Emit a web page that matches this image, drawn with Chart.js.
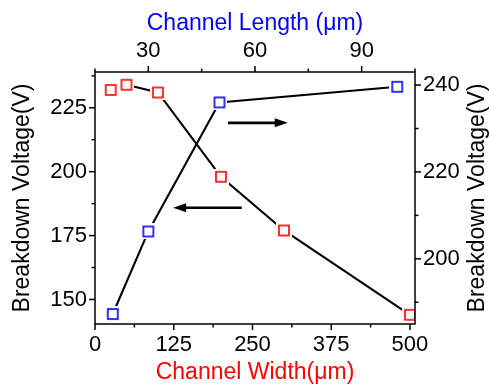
<!DOCTYPE html>
<html>
<head>
<meta charset="utf-8">
<script src="https://cdn.jsdelivr.net/npm/chart.js@4.4.0/dist/chart.umd.min.js"></script>
<style>
    html, body { margin: 0; padding: 0; background: #fff; }
    canvas { display: block; }
</style>
</head>
<body>
<canvas id="breakdownChart" width="489" height="388"></canvas>
<script>
// Channel width series (bottom / left axes)
const channelWidth = [25, 50, 100, 200, 300, 500];
const widthVoltage = [232, 234, 231, 198, 177, 144];

// Channel length series (top / right axes)
const channelLength = [20, 30, 50, 100];
const lengthVoltage = [187.3, 206.3, 236, 239.6];

// tick labels
const widthTicks = [0, 125, 250, 375, 500];
const leftVoltTicks = [150, 175, 200, 225];
const lengthTicks = [30, 60, 90];
const rightVoltTicks = [200, 220, 240];

const minorStep = { x: 62.5, y: 12.5, x2: 15, y2: 10 };

// arrows, in channel width / left voltage units
const arrows = [
    { from: [211, 219.1], to: [306, 219.1] },
    { from: [233, 185.9], to: [124, 185.9] },
];

const FONT = "'Liberation Sans', Arial, sans-serif";

function makeMarker(color) {
    var c = document.createElement("canvas");
    c.width = 16;
    c.height = 16;
    var g = c.getContext("2d");
    g.fillStyle = "#fff";
    g.fillRect(0, 0, 16, 16);
    g.strokeStyle = color;
    g.lineWidth = 1.6;
    g.strokeRect(3, 3, 10, 10);
    return c;
}

function xy(xs, ys) {
    return xs.map((x, i) => ({ x: x, y: ys[i] }));
}

function fixedTicks(values) {
    return function (scale) {
        scale.ticks = values.map((v) => ({ value: v }));
    };
}

const decorations = {
    id: "decorations",
    afterDatasetsDraw(chart) {
        const ctx = chart.ctx;
        const a = chart.chartArea;
        ctx.save();
        ctx.strokeStyle = "#000";
        ctx.lineWidth = 1.5;
        ctx.strokeRect(a.left, a.top, a.right - a.left, a.bottom - a.top);

        // major + minor tick marks, pointing outward
        Object.keys(minorStep).forEach((id) => {
            const scale = chart.scales[id];
            const step = minorStep[id];
            for (let k = Math.ceil(scale.min / step); k * step <= scale.max + 1e-9; k++) {
                const v = k * step;
                const major = scale.ticks.some((t) => Math.abs(t.value - v) < 1e-6);
                const len = major ? 6 : 3.5;
                const p = scale.getPixelForValue(v);
                ctx.beginPath();
                if (id === "x") { ctx.moveTo(p, a.bottom); ctx.lineTo(p, a.bottom + len); }
                if (id === "x2") { ctx.moveTo(p, a.top); ctx.lineTo(p, a.top - len); }
                if (id === "y") { ctx.moveTo(a.left, p); ctx.lineTo(a.left - len, p); }
                if (id === "y2") { ctx.moveTo(a.right, p); ctx.lineTo(a.right + len, p); }
                ctx.stroke();
            }
        });

        // arrows
        const sx = chart.scales.x, sy = chart.scales.y;
        ctx.fillStyle = "#000";
        ctx.lineWidth = 2.6;
        arrows.forEach((ar) => {
            const x1 = sx.getPixelForValue(ar.from[0]);
            const y1 = sy.getPixelForValue(ar.from[1]);
            const x2 = sx.getPixelForValue(ar.to[0]);
            const y2 = sy.getPixelForValue(ar.to[1]);
            const ang = Math.atan2(y2 - y1, x2 - x1);
            const head = 13;
            ctx.beginPath();
            ctx.moveTo(x1, y1);
            ctx.lineTo(x2 - head * 0.7 * Math.cos(ang), y2 - head * 0.7 * Math.sin(ang));
            ctx.stroke();
            ctx.beginPath();
            ctx.moveTo(x2, y2);
            ctx.lineTo(x2 - head * Math.cos(ang) + 4.5 * Math.sin(ang), y2 - head * Math.sin(ang) - 4.5 * Math.cos(ang));
            ctx.lineTo(x2 - head * Math.cos(ang) - 4.5 * Math.sin(ang), y2 - head * Math.sin(ang) + 4.5 * Math.cos(ang));
            ctx.closePath();
            ctx.fill();
        });

        // right axis title reads bottom-to-top like the left one
        ctx.translate(478, (a.top + a.bottom) / 2);
        ctx.rotate(-Math.PI / 2);
        ctx.font = "23px " + FONT;
        ctx.textAlign = "center";
        ctx.textBaseline = "middle";
        ctx.fillText("Breakdown Voltage(V)", 0, 0);
        ctx.restore();
    },
};

function axis(position, min, max, ticks, size, title, titleColor, titlePad) {
    return {
        type: "linear",
        position: position,
        min: min,
        max: max,
        afterBuildTicks: fixedTicks(ticks),
        afterFit: function (scale) {
            if (position === "left" || position === "right") scale.width = size;
            else scale.height = size;
        },
        grid: { display: true, drawOnChartArea: false, drawTicks: false },
        border: { display: false },
        ticks: {
            color: "#000",
            padding: 8,
            maxRotation: 0,
            autoSkip: false,
            font: { family: FONT, size: 22 },
        },
        title: {
            display: !!title,
            text: title,
            color: titleColor,
            padding: titlePad,
            font: { family: FONT, size: 23 },
        },
    };
}

const ctx = document.getElementById("breakdownChart").getContext("2d");
new Chart(ctx, {
    type: "scatter",
    data: {
        datasets: [
            {
                label: "Channel Width",
                data: xy(channelWidth, widthVoltage),
                xAxisID: "x",
                yAxisID: "y",
                showLine: true,
                borderColor: "#000",
                borderWidth: 2.1,
                pointStyle: makeMarker("#ff0000"),
                pointRadius: 8,
            },
            {
                label: "Channel Length",
                data: xy(channelLength, lengthVoltage),
                xAxisID: "x2",
                yAxisID: "y2",
                showLine: true,
                borderColor: "#000",
                borderWidth: 2.1,
                pointStyle: makeMarker("#0000ff"),
                pointRadius: 8,
            },
        ],
    },
    options: {
        responsive: false,
        animation: false,
        layout: { padding: 0 },
        plugins: { legend: { display: false }, tooltip: { enabled: false } },
        scales: {
            x: axis("bottom", 0, 508, widthTicks, 64, "Channel Width(\u03bcm)", "#ff0000", { bottom: 2, top: 0 }),
            y: axis("left", 140.4, 239, leftVoltTicks, 95, "Breakdown Voltage(V)", "#000", { top: 9, bottom: 0 }),
            x2: axis("top", 15, 105, lengthTicks, 72, "Channel Length (\u03bcm)", "#0000ff", { top: 10, bottom: 0 }),
            y2: axis("right", 185, 243, rightVoltTicks, 74, "", "#000", 0),
        },
    },
    plugins: [decorations],
});
</script>
</body>
</html>
